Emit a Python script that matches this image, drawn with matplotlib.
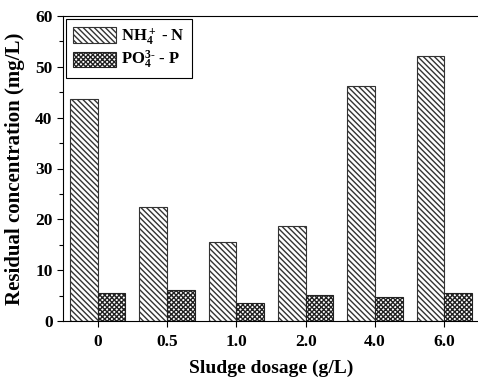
import matplotlib
matplotlib.use("Agg")
import matplotlib.pyplot as plt
import numpy as np
from matplotlib.ticker import MultipleLocator

categories = ["0", "0.5", "1.0", "2.0", "4.0", "6.0"]
nh4 = [43.7, 22.5, 15.5, 18.7, 46.2, 52.1]
po4 = [5.5, 6.1, 3.6, 5.2, 4.7, 5.5]

plt.rcParams['font.family'] = ['Liberation Serif', 'DejaVu Serif']
plt.rcParams['font.weight'] = 'bold'
plt.rcParams['hatch.linewidth'] = 1.0
plt.rcParams['mathtext.fontset'] = 'custom'
plt.rcParams['mathtext.rm'] = 'Liberation Serif:bold'
plt.rcParams['mathtext.bf'] = 'Liberation Serif:bold'
plt.rcParams['mathtext.it'] = 'Liberation Serif:bold'
plt.rcParams['mathtext.default'] = 'rm'

fig = plt.figure(figsize=(4.78, 3.79), dpi=100)
ax = fig.add_axes([63/478, 1-321/379, 416/478, 305/379])

x = np.arange(len(categories))
w = 0.4
ax.bar(x - w/2, nh4, w, facecolor='white', edgecolor='#333333', hatch='\\' * 6, linewidth=0.8,
       label=r'NH$_4^+$ - N')
ax.bar(x + w/2, po4, w, facecolor='white', edgecolor='#222222', hatch='x' * 7, linewidth=0.8,
       label=r'PO$_4^{\text{3-}}$ - P')

ax.set_xlim(-0.5, 5.5)
ax.set_ylim(0, 60)
ax.set_xticks(x)
ax.set_xticklabels(categories, fontsize=12.5, fontweight='bold')
ax.yaxis.set_major_locator(MultipleLocator(10))
ax.yaxis.set_minor_locator(MultipleLocator(5))
for lab in ax.get_yticklabels():
    lab.set_fontsize(12.5)
    lab.set_fontweight('bold')
ax.tick_params(axis='both', which='major', direction='out', length=4.5, width=0.8)
ax.tick_params(axis='y', which='minor', direction='out', length=3, width=0.8)
ax.tick_params(axis='x', pad=5)
ax.tick_params(axis='y', pad=3)
for s in ax.spines.values():
    s.set_linewidth(0.8)

ax.set_xlabel('Sludge dosage (g/L)', fontsize=14, fontweight='bold', labelpad=7)
ax.set_ylabel('Residual concentration (mg/L)', fontsize=15, fontweight='bold')
ax.yaxis.set_label_coords(-(63-25)/416, 0.5)

leg = ax.legend(loc='upper left', prop={'weight': 'bold', 'size': 12},
                fancybox=False, edgecolor='black', framealpha=1,
                handlelength=2.55, handleheight=1.05, handletextpad=0.35,
                labelspacing=0.15, borderpad=0.4, borderaxespad=0.2)
leg.get_frame().set_linewidth(0.8)

fig.savefig('out.png', dpi=100)
